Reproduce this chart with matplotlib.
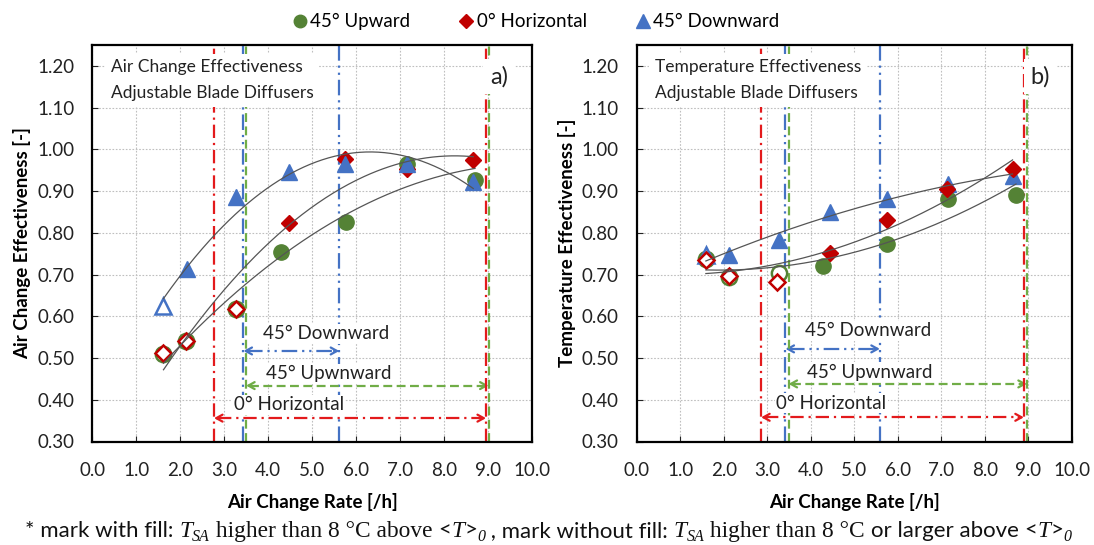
import numpy as np
import matplotlib
matplotlib.use("Agg")
import matplotlib.pyplot as plt
from matplotlib.lines import Line2D

# ---------------- data ----------------
# a) Air change effectiveness
ace_up_x = [1.62, 2.13, 3.26, 4.29, 5.77, 7.17, 8.71]
ace_up_y = [0.510, 0.541, 0.617, 0.754, 0.825, 0.966, 0.928]
ace_up_fill = [False, False, False, True, True, True, True]

ace_hor_x = [1.62, 2.13, 3.26, 4.48, 5.75, 7.17, 8.67]
ace_hor_y = [0.512, 0.540, 0.617, 0.824, 0.978, 0.954, 0.974]
ace_hor_fill = [False, False, False, True, True, True, True]

ace_down_x = [1.62, 2.15, 3.26, 4.48, 5.75, 7.17, 8.67]
ace_down_y = [0.624, 0.714, 0.886, 0.946, 0.966, 0.965, 0.922]
ace_down_fill = [False, True, True, True, True, True, True]

# b) Temperature effectiveness
te_up_x = [1.59, 2.12, 3.26, 4.28, 5.76, 7.16, 8.72]
te_up_y = [0.738, 0.695, 0.704, 0.721, 0.773, 0.882, 0.892]
te_up_fill = [False, False, False, True, True, True, True]

te_hor_x = [1.59, 2.12, 3.22, 4.44, 5.76, 7.14, 8.64]
te_hor_y = [0.734, 0.697, 0.682, 0.753, 0.830, 0.906, 0.954]
te_hor_fill = [False, False, False, True, True, True, True]

te_down_x = [1.59, 2.12, 3.27, 4.44, 5.75, 7.16, 8.64]
te_down_y = [0.746, 0.746, 0.784, 0.849, 0.882, 0.918, 0.937]
te_down_fill = [False, True, True, True, True, True, True]

# operating ranges of air change rate (min, max) per diffuser setting
ace_range_down = (3.44, 5.62)
ace_range_up = (3.50, 9.02)
ace_range_hor = (2.77, 8.96)
te_range_down = (3.42, 5.59)
te_range_up = (3.49, 8.97)
te_range_hor = (2.86, 8.90)

series_names = ["45° Upward", "0° Horizontal", "45° Downward"]
x_ticks = [0.0, 1.0, 2.0, 3.0, 4.0, 5.0, 6.0, 7.0, 8.0, 9.0, 10.0]
y_ticks = [0.30, 0.40, 0.50, 0.60, 0.70, 0.80, 0.90, 1.00, 1.10, 1.20]

# ---------------- style ----------------
SANS = "Lato"
SERIF = "Liberation Serif"
plt.rcParams["font.family"] = [SANS, "DejaVu Sans"]

C_UP, C_HOR, C_DOWN = "#548235", "#C00000", "#4472C4"
L_UP, L_HOR, L_DOWN = "#70AD47", "#E31A1C", "#4472C4"
MARK = {"up": ("o", 11.0), "hor": ("D", 8.0), "down": ("^", 11.5)}

LS_UP = (0, (4.0, 2.0))
LS_HOR = (0, (6.0, 2.2, 1.0, 2.2))
LS_DOWN = (0, (7.0, 2.2, 1.0, 2.2, 1.0, 2.2))

W, H = 1094, 545
fig = plt.figure(figsize=(W / 100, H / 100), dpi=100)
ax_a = fig.add_axes([92.3 / W, (H - 441.5) / H, 439.4 / W, 396.5 / H])
ax_b = fig.add_axes([636.7 / W, (H - 441.5) / H, 435.0 / W, 396.5 / H])


def draw_series(ax, xs, ys, fills, color, key, z):
    marker, ms = MARK[key]
    for x, y, f in zip(xs, ys, fills):
        ax.plot([x], [y], linestyle="none", marker=marker, markersize=ms,
                markerfacecolor=color if f else "white",
                markeredgecolor=color, markeredgewidth=1.0 if f else 1.8,
                zorder=z)


def draw_trend(ax, xs, ys):
    coef = np.polyfit(xs, ys, 2)
    xx = np.linspace(min(xs), max(xs), 200)
    ax.plot(xx, np.polyval(coef, xx), color="#555555", lw=0.9, zorder=8)


def draw_range(ax, rng, y_arrow, color, ls, label, tx, ty):
    lo, hi = rng
    for xv in (lo, hi):
        ax.axvline(xv, color=color, lw=1.6, linestyle=ls, zorder=3)
    ax.plot([lo + 0.08, hi - 0.08], [y_arrow, y_arrow], color=color, lw=1.6,
            linestyle=ls, zorder=3)
    for a, b in ((lo + 0.12, lo), (hi - 0.12, hi)):
        ax.annotate("", xy=(b, y_arrow), xytext=(a, y_arrow),
                    arrowprops=dict(arrowstyle="->,head_length=0.45,head_width=0.25",
                                    color=color, lw=1.6, shrinkA=0, shrinkB=0),
                    zorder=3)
    ax.text(tx, ty, label, ha="center", va="center", fontsize=13.5,
            color="#222222", zorder=6,
            bbox=dict(facecolor="white", edgecolor="none", pad=1.0))


def setup_axes(ax, ylabel, title_lines, tag):
    ax.set_xlim(0, 10)
    ax.set_ylim(0.30, 1.2504)
    ax.set_xticks(x_ticks)
    ax.set_yticks(y_ticks)
    ax.set_xticklabels([f"{v:.1f}" for v in x_ticks])
    ax.set_yticklabels([f"{v:.2f}" for v in y_ticks])
    ax.tick_params(direction="in", length=4, width=0.8, labelsize=13.5,
                   colors="#222222")
    ax.tick_params(axis="y", pad=13)
    ax.tick_params(axis="x", pad=15)
    ax.grid(True, color="#BFBFBF", linestyle=(0, (1.5, 1.5)), lw=0.8, zorder=0)
    ax.set_axisbelow(True)
    for s in ax.spines.values():
        s.set_linewidth(1.6)
        s.set_color("black")
        s.set_zorder(20)
    ax.set_xlabel("Air Change Rate [/h]", fontsize=13.5, fontweight="bold",
                  labelpad=10)
    ax.set_ylabel(ylabel, fontsize=13.5, fontweight="bold", labelpad=4)
    ax.text(0.42, 1.216, title_lines, ha="left", va="top", fontsize=12.5,
            color="#222222", linespacing=1.75, zorder=6,
            bbox=dict(facecolor="white", edgecolor="none", pad=4))
    ax.text(9.05, 1.175, tag, ha="left", va="center", fontsize=17,
            color="#222222", zorder=6,
            bbox=dict(facecolor="white", edgecolor="none", pad=5))


setup_axes(ax_a, "Air Change Effectiveness [-]",
           "Air Change Effectiveness\nAdjustable Blade Diffusers", "a)")
setup_axes(ax_b, "Temperature Effectiveness [-]",
           "Temperature Effectiveness\nAdjustable Blade Diffusers", "b)")

# panel a
draw_series(ax_a, ace_up_x, ace_up_y, ace_up_fill, C_UP, "up", 5)
draw_series(ax_a, ace_hor_x, ace_hor_y, ace_hor_fill, C_HOR, "hor", 6)
draw_series(ax_a, ace_down_x, ace_down_y, ace_down_fill, C_DOWN, "down", 7)
for xs, ys in ((ace_up_x, ace_up_y), (ace_hor_x, ace_hor_y), (ace_down_x, ace_down_y)):
    draw_trend(ax_a, xs, ys)
draw_range(ax_a, ace_range_down, 0.517, L_DOWN, LS_DOWN, "45° Downward", 5.33, 0.558)
draw_range(ax_a, ace_range_up, 0.434, L_UP, LS_UP, "45° Upwnward", 5.37, 0.462)
draw_range(ax_a, ace_range_hor, 0.356, L_HOR, LS_HOR, "0° Horizontal", 4.47, 0.388)

# panel b
draw_series(ax_b, te_up_x, te_up_y, te_up_fill, C_UP, "up", 5)
draw_series(ax_b, te_down_x, te_down_y, te_down_fill, C_DOWN, "down", 6)
draw_series(ax_b, te_hor_x, te_hor_y, te_hor_fill, C_HOR, "hor", 7)
for xs, ys in ((te_up_x, te_up_y), (te_hor_x, te_hor_y), (te_down_x, te_down_y)):
    draw_trend(ax_b, xs, ys)
draw_range(ax_b, te_range_down, 0.522, L_DOWN, LS_DOWN, "45° Downward", 5.32, 0.565)
draw_range(ax_b, te_range_up, 0.438, L_UP, LS_UP, "45° Upwnward", 5.36, 0.466)
draw_range(ax_b, te_range_hor, 0.358, L_HOR, LS_HOR, "0° Horizontal", 4.47, 0.392)

# legend
handles = [
    Line2D([], [], linestyle="none", marker="o", markersize=9, color=C_UP),
    Line2D([], [], linestyle="none", marker="D", markersize=7, color=C_HOR),
    Line2D([], [], linestyle="none", marker="^", markersize=10, color=C_DOWN),
]
fig.legend(handles, series_names, loc="center", bbox_to_anchor=(0.489, 0.96),
           ncol=3, frameon=False, fontsize=13.5, handletextpad=0.05,
           columnspacing=2.5, handlelength=1.0)

# footnote built from sans / serif pieces
renderer = fig.canvas.get_renderer()
fs = 16
segments = [
    ("* mark with fill: ", dict(family=[SANS]), 0, 1.0),
    ("T", dict(family=[SERIF], style="italic"), 0, 1.05),
    ("SA", dict(family=[SERIF], style="italic"), -4, 0.72),
    (" higher than 8 °C above ", dict(family=[SERIF]), 0, 1.05),
    ("<", dict(family=[SANS]), 0, 1.0),
    ("T", dict(family=[SERIF], style="italic"), 0, 1.05),
    (">", dict(family=[SANS]), 0, 1.0),
    ("0", dict(family=[SERIF], style="italic"), -4, 0.72),
    (" , mark without fill: ", dict(family=[SANS]), 0, 1.0),
    ("T", dict(family=[SERIF], style="italic"), 0, 1.05),
    ("SA", dict(family=[SERIF], style="italic"), -4, 0.72),
    (" higher than 8 °C ", dict(family=[SERIF]), 0, 1.05),
    ("or larger above ", dict(family=[SANS]), 0, 1.0),
    ("<", dict(family=[SANS]), 0, 1.0),
    ("T", dict(family=[SERIF], style="italic"), 0, 1.05),
    (">", dict(family=[SANS]), 0, 1.0),
    ("0", dict(family=[SERIF], style="italic"), -4, 0.72),
]
x_px = 25.0
base_y = 537.0
for txt, kw, dy, scale in segments:
    t = fig.text(x_px / W, (H - base_y + dy) / H, txt, fontsize=fs * scale,
                 va="baseline", ha="left", color="#111111", **kw)
    bb = t.get_window_extent(renderer)
    x_px += bb.width

fig.savefig("out.png", dpi=100)
